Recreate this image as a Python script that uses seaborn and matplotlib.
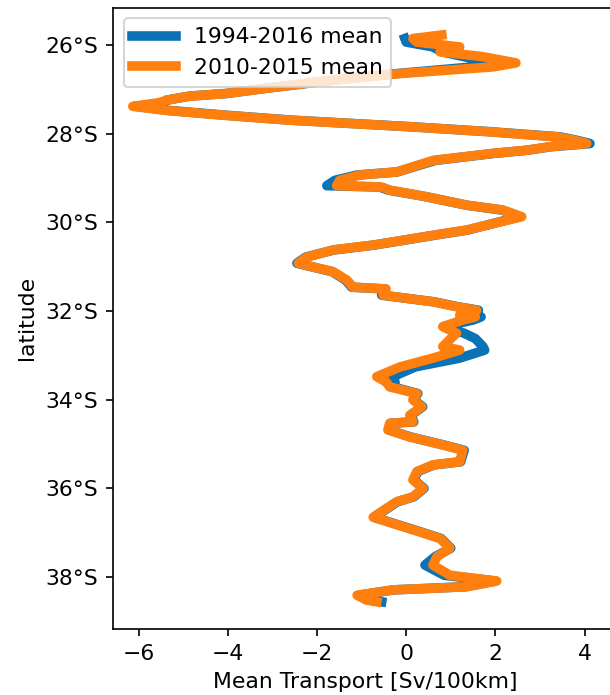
import numpy as np
import pandas as pd
import matplotlib
matplotlib.use("Agg")
import matplotlib.pyplot as plt
import matplotlib.ticker as mticker
import seaborn as sns

lat = [-25.77, -25.85, -25.93, -26.04, -26.15, -26.26, -26.40, -26.49, -26.64, -26.79,
       -26.97, -27.09, -27.15, -27.24, -27.30, -27.38, -27.47, -27.58, -27.69, -27.84,
       -27.95, -28.07, -28.14, -28.22, -28.29, -28.37, -28.44, -28.60, -28.86, -28.93,
       -29.05, -29.17, -29.20, -29.27, -29.42, -29.61, -29.72, -29.87, -30.17, -30.29,
       -30.51, -30.62, -30.78, -30.92, -31.00, -31.11, -31.30, -31.46, -31.50, -31.64,
       -31.79, -31.90, -31.98, -32.09, -32.13, -32.20, -32.35, -32.50, -32.62, -32.80,
       -32.88, -33.06, -33.26, -33.48, -33.60, -33.71, -33.86, -34.00, -34.16, -34.35,
       -34.50, -34.53, -34.68, -34.84, -35.02, -35.14, -35.40, -35.47, -35.62, -35.81,
       -36.00, -36.19, -36.30, -36.45, -36.65, -36.79, -36.98, -37.13, -37.35, -37.54,
       -37.73, -37.96, -38.09, -38.22, -38.29, -38.41, -38.52, -38.56]

mean_2010_2015 = [0.80, 0.15, 0.24, 1.20, 0.76, 1.72, 2.46, 1.95, -0.14, -1.64,
                  -3.12, -4.03, -4.86, -5.37, -5.55, -6.13, -5.40, -4.10, -2.65, 0.08,
                  1.80, 3.40, 3.75, 4.05, 3.22, 2.70, 1.95, 0.60, -0.21, -1.04,
                  -1.49, -1.56, -0.55, -0.37, 0.46, 1.36, 2.17, 2.59, 1.36, 0.60,
                  -0.74, -1.64, -2.23, -2.42, -2.10, -1.64, -1.33, -1.19, -0.45, -0.52,
                  0.60, 1.13, 1.58, 1.20, 1.55, 1.27, 0.82, 1.13, 1.00, 0.82,
                  1.20, 0.60, -0.14, -0.66, -0.45, -0.37, 0.24, 0.15, 0.35, 0.08,
                  0.15, -0.37, -0.41, 0.08, 0.82, 1.27, 1.20, 0.60, 0.24, 0.15,
                  0.38, 0.15, -0.21, -0.44, -0.74, -0.30, 0.30, 0.76, 0.98, 0.69,
                  0.60, 0.98, 2.03, 1.36, -0.30, -1.10, -0.89, -0.66]

mean_1994_2016 = [np.nan, -0.03, 0.00, 0.60, 0.80, 1.30, 1.92, 1.50, -0.20, -1.64,
                  -3.12, -4.03, -4.86, -5.37, -5.45, -6.05, -5.35, -4.05, -2.60, 0.10,
                  1.85, 3.45, 3.80, 4.12, 3.25, 2.72, 1.98, 0.65, -0.20, -1.10,
                  -1.60, -1.78, -0.60, -0.40, 0.45, 1.35, 2.15, 2.55, 1.38, 0.62,
                  -0.72, -1.62, -2.25, -2.45, -2.12, -1.66, -1.36, -1.22, -0.48, -0.55,
                  0.62, 1.15, 1.62, 1.25, 1.68, 1.50, 0.85, 1.30, 1.55, 1.72,
                  1.76, 1.20, 0.20, -0.30, -0.25, -0.30, 0.26, 0.17, 0.37, 0.10,
                  0.17, -0.35, -0.39, 0.10, 0.84, 1.30, 1.22, 0.62, 0.26, 0.17,
                  0.40, 0.17, -0.19, -0.42, -0.72, -0.28, 0.32, 0.78, 1.00, 0.65,
                  0.42, 0.85, 2.00, 1.30, -0.28, -1.05, -0.80, -0.55]

series_labels = ["1994-2016 mean", "2010-2015 mean"]

plt.rcParams['font.family'] = ['DejaVu Sans']
plt.rcParams['font.size'] = 10.5

fig = plt.figure(figsize=(610 / 150, 695 / 150), dpi=150)
ax = fig.add_axes([0.1848, 0.0945, 0.8284, 0.8947])

df_a = pd.DataFrame({"lat": lat, "transport": mean_1994_2016}).dropna()
df_b = pd.DataFrame({"lat": lat, "transport": mean_2010_2015})

sns.lineplot(data=df_a, x="transport", y="lat", sort=False, estimator=None,
             orient="y", color="#0a72b5", lw=4.6, label=series_labels[0], ax=ax)
sns.lineplot(data=df_b, x="transport", y="lat", sort=False, estimator=None,
             orient="y", color="#ff7f0e", lw=4.6, label=series_labels[1], ax=ax)

ax.set_xlim(-6.58, 4.75)
ax.set_ylim(-39.18, -25.15)
ax.set_xticks([-6, -4, -2, 0, 2, 4])
ax.set_yticks([-26, -28, -30, -32, -34, -36, -38])
ax.yaxis.set_major_formatter(mticker.FuncFormatter(lambda v, p: f"{abs(v):.0f}°S"))
ax.set_xlabel("Mean Transport [Sv/100km]")
ax.set_ylabel("latitude")
ax.legend(loc="upper left", fontsize=10.5)

fig.savefig("out.png", dpi=150)
